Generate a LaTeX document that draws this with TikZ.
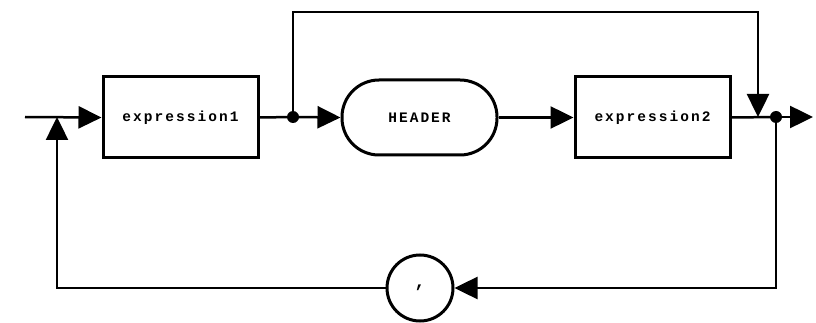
\documentclass[tikz,border=0pt]{standalone}
\usepackage{fontspec}
\setmonofont[LetterSpace=14]{Liberation Mono}
\usetikzlibrary{arrows.meta,calc}
\tikzset{
  every picture/.style={x=1pt,y=-1pt},
  conn/.style={line width=2.5pt},
  tip/.style={-{Triangle[length=23pt,width=22pt]}},
  lbl/.style={font=\ttfamily\bfseries\fontsize{14.5}{16}\selectfont},
  sqbox/.style={draw,line width=3pt,minimum width=155pt,minimum height=81pt,inner sep=0pt,lbl},
  rndbox/.style={draw,line width=3pt,rounded corners=37pt,minimum width=155pt,minimum height=75pt,inner sep=0pt,lbl},
  circ/.style={draw,circle,line width=3pt,minimum size=66pt,inner sep=0pt,font=\ttfamily\bfseries\fontsize{18}{18}\selectfont},
  jdot/.style={circle,fill,inner sep=0pt,minimum size=12pt},
}
\begin{document}
\begin{tikzpicture}
\useasboundingbox (0,0) rectangle (816,323);
\node[sqbox] (e1) at (180.5,117.5) {expression1};
\node[rndbox] (hdr) at (419.5,117.5) {HEADER};
\node[sqbox] (e2) at (652.5,117.5) {expression2};
\node[circ] (cm) at (420,288) {,};
\node[jdot] (j1) at (293,117) {};
\node[jdot] (j2) at (776,117) {};
\coordinate (st) at (25,117);
\coordinate (en) at (813,117);
\coordinate (mg) at (758,117);
\coordinate (tl) at (294,12);
\coordinate (bl) at (57,288);
\coordinate (lj) at (57,117);
\coordinate (br) at (776,288);
\draw[conn,tip] (st) -- (e1.west);
\draw[conn] (e1.east) -- (j1.center);
\draw[conn,tip] (j1.center) -- (hdr.west);
\draw[conn,tip] (hdr.east) -- (e2.west);
\draw[conn] (e2.east) -- (j2.center);
\draw[conn,tip] (j2.center) -- (en);
\draw[conn,tip] (j1.center) |- (tl) -| (mg);
\draw[conn,tip] (j2.center) -- (br) -- (cm.east);
\draw[conn,tip] (cm.west) -- (bl) -- (lj);
\end{tikzpicture}
\end{document}
